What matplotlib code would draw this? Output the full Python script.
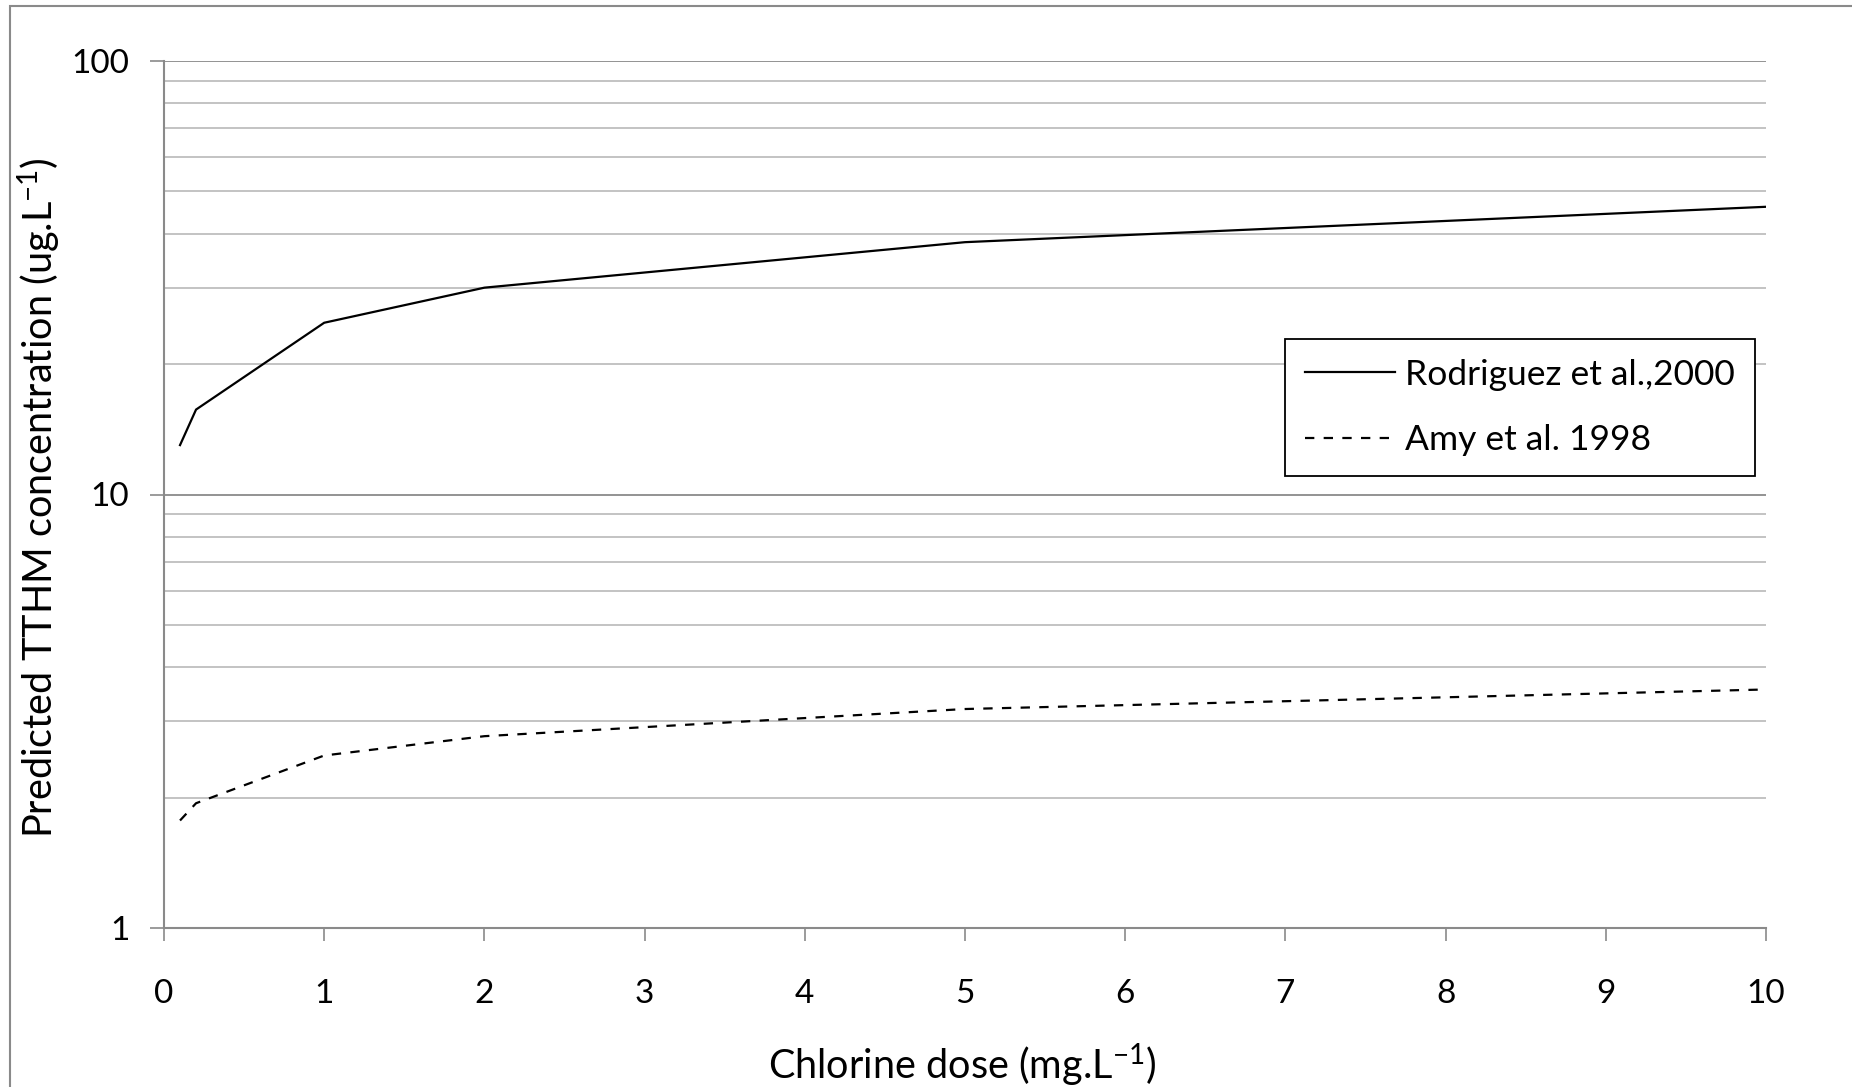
import matplotlib
matplotlib.use("Agg")
import matplotlib.pyplot as plt
from matplotlib.ticker import FixedLocator, FixedFormatter, LogLocator, NullFormatter
from matplotlib.patches import Rectangle

# ---- data ----
chlorine_dose = [0.1, 0.2, 1, 2, 5, 10]
rodriguez_2000 = [13.0, 15.7, 24.9, 30.0, 38.2, 46.1]
amy_1998 = [1.77, 1.94, 2.50, 2.77, 3.20, 3.55]
series_labels = ["Rodriguez et al.,2000", "Amy et al. 1998"]
x_ticks = [0, 1, 2, 3, 4, 5, 6, 7, 8, 9, 10]
y_ticks = [1, 10, 100]
y_tick_labels = ["1", "10", "100"]
x_label = r"Chlorine dose (mg.L$^{\mathregular{-1}}$)"
y_label = r"Predicted TTHM concentration (ug.L$^{\mathregular{-1}}$)"

FONT = "Lato"
plt.rcParams["font.family"] = [FONT, "DejaVu Sans"]
plt.rcParams["mathtext.fontset"] = "custom"
plt.rcParams["mathtext.rm"] = FONT
plt.rcParams["mathtext.it"] = FONT
plt.rcParams["mathtext.bf"] = FONT

W, H = 1852, 1087
fig = plt.figure(figsize=(W / 100, H / 100), dpi=100)
fig.patch.set_facecolor("white")

left, right = 164 / W, 1766 / W
bottom, top = 1 - 928 / H, 1 - 61 / H
ax = fig.add_axes([left, bottom, right - left, top - bottom])

AX_GRAY = "#8a8a8a"
GRID_MINOR = "#b9b9b9"

ax.set_yscale("log")
ax.set_xlim(0, 10)
ax.set_ylim(1, 100)

ax.plot(chlorine_dose, rodriguez_2000, color="black", lw=1.6, label=series_labels[0],
        solid_joinstyle="miter", zorder=3)
ax.plot(chlorine_dose, amy_1998, color="black", lw=1.6, dashes=(4.2, 4.2),
        label=series_labels[1], zorder=3)

# ticks
ax.xaxis.set_major_locator(FixedLocator(x_ticks))
ax.yaxis.set_major_locator(FixedLocator(y_ticks))
ax.yaxis.set_major_formatter(FixedFormatter(y_tick_labels))
ax.yaxis.set_minor_locator(LogLocator(base=10, subs=[2, 3, 4, 5, 6, 7, 8, 9]))
ax.yaxis.set_minor_formatter(NullFormatter())
ax.xaxis.set_minor_locator(FixedLocator([]))

ax.tick_params(axis="x", which="major", direction="out", length=9, width=1.2,
               color=AX_GRAY, labelsize=24, pad=28, labelcolor="black")
ax.tick_params(axis="y", which="major", direction="out", length=10, width=1.2,
               color=AX_GRAY, labelsize=24, pad=15, labelcolor="black")
ax.tick_params(axis="y", which="minor", length=0)

# grid
ax.grid(True, axis="y", which="major", color=AX_GRAY, lw=1.3, zorder=0)
ax.grid(True, axis="y", which="minor", color=GRID_MINOR, lw=1.2, zorder=0)
ax.grid(False, axis="x")
ax.set_axisbelow(True)

for s in ["top", "right"]:
    ax.spines[s].set_visible(False)
for s in ["left", "bottom"]:
    ax.spines[s].set_color(AX_GRAY)
    ax.spines[s].set_linewidth(1.5)

ax.set_xlabel(x_label, fontsize=28.5)
ax.xaxis.set_label_coords(0.498, -0.131)
ax.set_ylabel(y_label, fontsize=28.5)
ax.yaxis.set_label_coords(-0.063, 0.496)

leg = ax.legend(loc="upper left", bbox_to_anchor=(0.6998, 0.679), fontsize=25.5,
                frameon=True, fancybox=False, framealpha=1, edgecolor="black",
                handlelength=2.55, handletextpad=0.3, borderpad=0.55,
                labelspacing=0.95, borderaxespad=0)
leg.get_frame().set_linewidth(1.3)

# outer chart-area border (left and top visible)
fig.add_artist(Rectangle((10 / W, -0.05), 1.2, (1 - 6 / H) + 0.05,
                         transform=fig.transFigure, fill=False,
                         edgecolor=AX_GRAY, lw=1.5))

fig.savefig("out.png", dpi=100, facecolor="white")
